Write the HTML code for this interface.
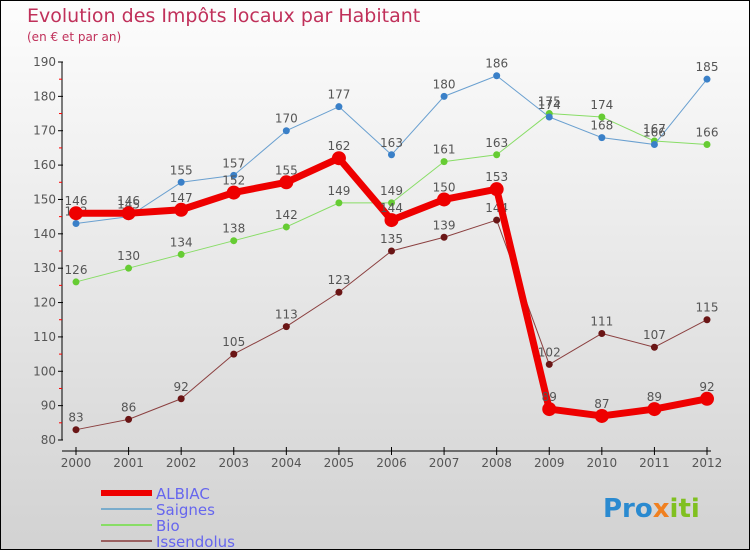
<!DOCTYPE html>
<html><head><meta charset="utf-8"><style>
body{margin:0}
#c{width:750px;height:550px;position:relative;box-sizing:border-box;border:1px solid #000;background:linear-gradient(#fdfdfd,#d2d2d2);font-family:"DejaVu Sans","Liberation Sans",sans-serif;overflow:hidden}
svg text{font-family:"DejaVu Sans","Liberation Sans",sans-serif}
</style></head><body>
<div id="c">
<svg id="s" width="750" height="550">
<text x="26" y="21" font-size="19" fill="#c0305a">Evolution des Impôts locaux par Habitant</text>
<text x="26" y="40" font-size="12" fill="#c0305a">(en € et par an)</text>
<g id="g"></g>
<text x="602" y="516" font-size="26" font-weight="bold" fill="#2a8ad0">Pro<tspan fill="#f08020">x</tspan><tspan fill="#80c020">iti</tspan></text>
</svg>
</div>
<script>
const years=[2000,2001,2002,2003,2004,2005,2006,2007,2008,2009,2010,2011,2012];
const yTicks=[80,90,100,110,120,130,140,150,160,170,180,190];
const albiac=[146,146,147,152,155,162,144,150,153,89,87,89,92];
const saignes=[143,145,155,157,170,177,163,180,186,174,168,166,185];
const bio=[126,130,134,138,142,149,149,161,163,175,174,167,166];
const issendolus=[83,86,92,105,113,123,135,139,144,102,111,107,115];
const NS="http://www.w3.org/2000/svg";
const g=document.getElementById('g');
const X=i=>75+i*(706-75)/(years.length-1);
const Y=v=>439-(v-80)*(439-61)/110;
function mk(t,a,p){const e=document.createElementNS(NS,t);for(const k in a)e.setAttribute(k,a[k]);(p||g).appendChild(e);return e;}
// axes
let e=mk('line',{x1:61,y1:Y(190),x2:61,y2:Y(80),stroke:'#000'});


e=mk('line',{x1:61,y1:450,x2:710,y2:450,stroke:'#000'});


yTicks.forEach((v,i)=>{
  mk('line',{x1:57,y1:Y(v),x2:62,y2:Y(v),stroke:'#000'});
  if(i<yTicks.length-1)mk('line',{x1:58,y1:Y(v+5),x2:61,y2:Y(v+5),stroke:'#f00'});
  const t=mk('text',{x:55,y:Y(v)+4,'font-size':12,fill:'#555','text-anchor':'end'});
  t.textContent=v;
  
  
});
years.forEach((y,i)=>{
  mk('line',{x1:X(i),y1:446,x2:X(i),y2:454,stroke:'#000'});
  const t=mk('text',{x:X(i),y:466,'font-size':12,fill:'#555','text-anchor':'middle'});
  t.textContent=y;
  
  
});
function series(data,color,w,r,dot,name,labelsAbove){
  const pts=data.map((v,i)=>X(i)+','+Y(v)).join(' ');
  const pl=mk('polyline',{points:pts,fill:'none',stroke:color,'stroke-width':w,'stroke-linejoin':'round'});
  
  
  data.forEach((v,i)=>{
    const c=mk('circle',{cx:X(i),cy:Y(v),r:r,fill:dot});
    
    
    const t=mk('text',{x:X(i),y:Y(v)-8,'font-size':12,fill:'#555','text-anchor':'middle'});
    t.textContent=v;
    
    
  });
}
series(issendolus,'#8b4040',1,3.5,'#6a1515','issendolus');
series(bio,'#88dd66',1,3.5,'#66cc33','bio');
series(saignes,'#6aa0d0',1,3.5,'#3a80c8','saignes');
series(albiac,'#ee0000',7,7,'#ee0000','albiac');
// legend
const leg=[['ALBIAC','#ee0000',6],['Saignes','#7aaccc',2],['Bio','#88dd66',2],['Issendolus','#9a6060',2]];
leg.forEach((l,i)=>{
  const y=492+i*16;
  const ln=mk('line',{x1:100,y1:y,x2:151,y2:y,stroke:l[1],'stroke-width':l[2]});
  
  
  const t=mk('text',{x:155,y:y+6,'font-size':15,fill:'#6666ee'});
  t.textContent=l[0];
  
  
});
</script>
</body></html>
